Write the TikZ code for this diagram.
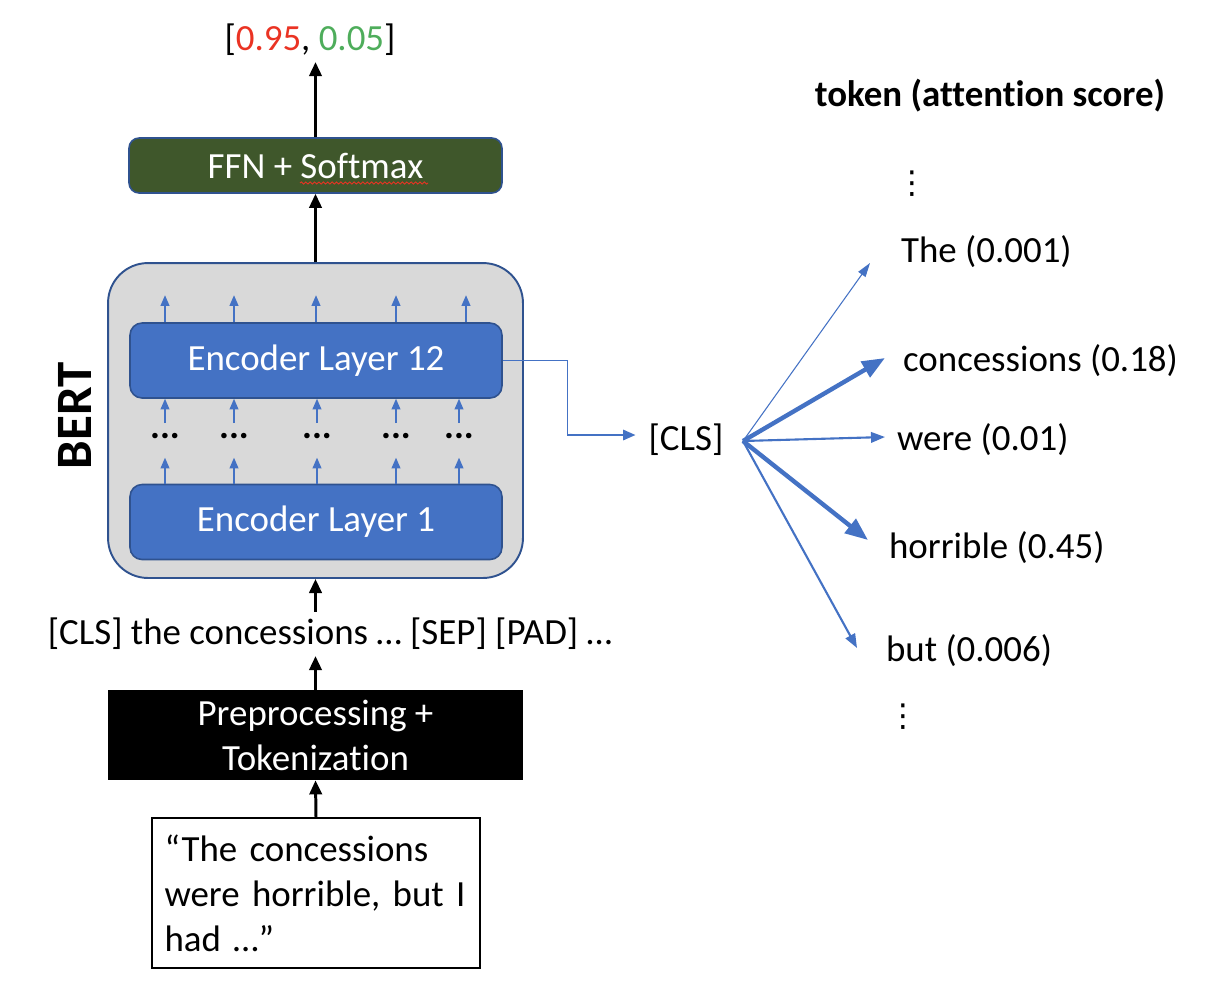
\documentclass[tikz,border=0pt]{standalone}
\usepackage{fontspec}
\setmainfont[Ligatures=NoCommon]{Carlito}
\newfontfamily\symfont{DejaVu Sans}
\usetikzlibrary{arrows.meta,decorations.pathmorphing}
\definecolor{encblue}{HTML}{4472C4}
\definecolor{edgeblue}{HTML}{2F528F}
\definecolor{ffngreen}{HTML}{3F572B}
\definecolor{bertgray}{HTML}{D9D9D9}
\definecolor{probred}{HTML}{EA3323}
\definecolor{probgreen}{HTML}{4EAD5B}
\tikzset{
	blk/.style={black, line width=1.7pt, -{Triangle[length=8pt,width=7pt]}},
	bluearr/.style={encblue, line width=0.7pt, -{Triangle[length=6pt,width=5pt]}},
	layer/.style={draw=edgeblue, line width=0.9pt, fill=encblue, rounded corners=0.24cm, text=white, minimum width=7.44cm, minimum height=1.5cm},
	lbl/.style={anchor=west, inner sep=1pt},
	vdot/.style={font=\symfont\fontsize{18}{18}\selectfont, inner sep=1pt},
	thinatt/.style={encblue, line width=0.6pt, -{Triangle[length=8pt,width=5pt]}},
	midatt/.style={encblue, line width=1.2pt, -{Triangle[length=8pt,width=6pt]}},
	thickatt/.style={encblue, line width=2.5pt, -{Triangle[length=13pt,width=10pt]}},
}
\begin{document}
\begin{tikzpicture}[x=0.02cm, y=-0.02cm, font=\fontsize{21}{25.6}\selectfont]
	\useasboundingbox (0,0) rectangle (1222,998);
	\node[draw=edgeblue, line width=1.1pt, fill=bertgray, rounded corners=0.8cm, minimum width=8.3cm, minimum height=6.3cm] (bert) at (315.5,420.5) {};
	\node[layer] (enc12) at (316,360.5) {Encoder Layer 12};
	\node[layer] (enc1) at (316,522) {Encoder Layer 1};
	\node[rotate=90, font=\fontsize{29}{29}\selectfont\bfseries] (bertlbl) at (75,416) {BERT};
	\foreach \x in {165,234,316,396,466}
		\draw[bluearr] (enc12.north -| \x,0) -- ++(0,-27);
	\foreach \x in {165,234,317,396,459} {
		\node[font=\fontsize{21}{21}\selectfont\bfseries] (dots\x) at (\x,436) {...};
		\draw[bluearr] (enc1.north -| \x,0) -- ++(0,-26);
		\draw[bluearr] (\x,423) -- (enc12.south -| \x,0);
	}
	\node[draw=edgeblue, line width=0.9pt, fill=ffngreen, rounded corners=0.2cm, text=white, minimum width=7.46cm, minimum height=1.1cm] (ffn) at (315.5,165.5) {FFN + Softmax};
	\draw[probred, line width=0.5pt, decorate, decoration={snake, amplitude=0.6pt, segment length=2.5pt}] (300,183) -- (428,183);
	\node (out) at (310,40) {[\textcolor{probred}{0.95}, \textcolor{probgreen}{0.05}]};
	\node (seq) at (330,634) {[CLS] the concessions … [SEP] [PAD] …};
	\node[fill=black, text=white, align=center, minimum width=8.3cm, minimum height=1.8cm] (prep) at (315.5,735) {Preprocessing +\\Tokenization};
	\node[draw, line width=0.8pt, align=left, text width=6.06cm, inner xsep=0.25cm, minimum height=3cm] (inp) at (316,893) {\frenchspacing“The concessions\\were horrible, but I\\had …”};
	\draw[blk] (inp.north) -- (prep.south);
	\draw[blk] (prep.north) -- (prep.north |- seq.south);
	\draw[blk] (bert.south |- seq.north) -- (bert.south);
	\draw[blk] (bert.north) -- (ffn.south);
	\draw[blk] (ffn.north) -- (ffn.north |- out.south);
	\node (cls) at (686,440) {[CLS]};
	\draw[encblue, line width=0.8pt, -{Triangle[length=7pt,width=6pt]}] (enc12.east) -- ++(65,0) |- ([xshift=-0.14cm, yshift=0.1cm]cls.west);
	\node[font=\fontsize{21}{25.6}\selectfont\bfseries] (hdr) at (990,96) {token (attention score)};
	\node[vdot] (vd1) at (912,184) {⋮};
	\node[lbl] (tThe) at (899,252) {The (0.001)};
	\node[lbl] (tconc) at (901,361) {concessions (0.18)};
	\node[lbl] (twere) at (895,440) {were (0.01)};
	\node[lbl] (thorr) at (887,548) {horrible (0.45)};
	\node[lbl] (tbut) at (884,651) {but (0.006)};
	\node[vdot] (vd2) at (903,717) {⋮};
	\coordinate (fan) at (743,441);
	\coordinate (aThe) at (870,263);
	\coordinate (aconc) at (885,358);
	\coordinate (awere) at (885,437);
	\coordinate (ahorr) at (868,540);
	\coordinate (abut) at (857,648);
	\draw[thinatt] (fan) -- (aThe);
	\draw[thickatt] (fan) -- (aconc);
	\draw[midatt] (fan) -- (awere);
	\draw[thickatt] (fan) -- (ahorr);
	\draw[midatt] (fan) -- (abut);
\end{tikzpicture}
\end{document}
